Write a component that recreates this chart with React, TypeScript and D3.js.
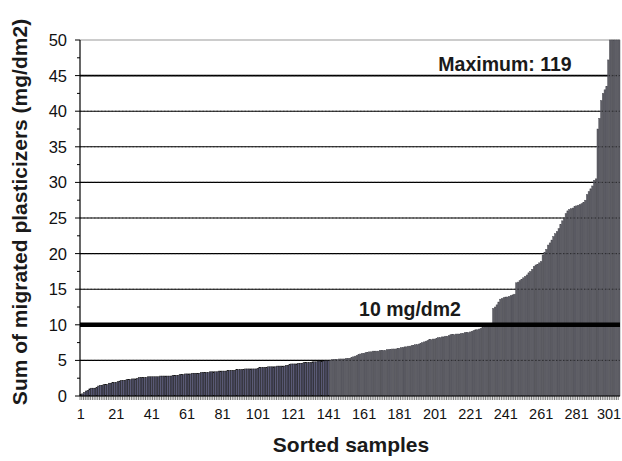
import * as d3 from "d3"

// sorted migration results, mg/dm2 (values above 50 are cut off by the axis)
const samples: number[] = [
  0.2, 0.3, 0.5, 0.7, 0.8, 1.0, 1.1, 1.1, 1.1, 1.2,
  1.4, 1.5, 1.5, 1.6, 1.6, 1.6, 1.8, 1.8, 1.9, 1.9,
  1.9, 2.0, 2.1, 2.2, 2.2, 2.2, 2.3, 2.3, 2.3, 2.4,
  2.4, 2.4, 2.5, 2.6, 2.6, 2.6, 2.6, 2.6, 2.7, 2.7,
  2.7, 2.7, 2.7, 2.7, 2.7, 2.8, 2.8, 2.8, 2.8, 2.8,
  2.8, 2.8, 2.9, 2.9, 2.9, 2.9, 3.0, 3.0, 3.0, 3.1,
  3.1, 3.1, 3.1, 3.2, 3.2, 3.2, 3.2, 3.2, 3.3, 3.3,
  3.3, 3.3, 3.3, 3.4, 3.4, 3.4, 3.4, 3.4, 3.5, 3.5,
  3.5, 3.5, 3.5, 3.6, 3.6, 3.6, 3.6, 3.6, 3.7, 3.7,
  3.7, 3.7, 3.7, 3.8, 3.8, 3.8, 3.8, 3.8, 3.8, 3.8,
  3.9, 4.0, 4.0, 4.0, 4.0, 4.0, 4.1, 4.1, 4.1, 4.1,
  4.1, 4.2, 4.2, 4.2, 4.2, 4.2, 4.3, 4.3, 4.4, 4.5,
  4.5, 4.5, 4.5, 4.6, 4.6, 4.6, 4.7, 4.7, 4.7, 4.7,
  4.7, 4.8, 4.8, 4.8, 4.9, 4.9, 4.9, 4.9, 5.0, 5.0,
  5.0, 5.0, 5.1, 5.1, 5.1, 5.1, 5.2, 5.2, 5.2, 5.2,
  5.3, 5.3, 5.3, 5.4, 5.5, 5.6, 5.7, 5.8, 5.9, 6.0,
  6.0, 6.1, 6.1, 6.2, 6.2, 6.3, 6.3, 6.3, 6.3, 6.4,
  6.4, 6.4, 6.4, 6.5, 6.5, 6.5, 6.6, 6.6, 6.6, 6.7,
  6.7, 6.8, 6.8, 6.9, 6.9, 7.0, 7.0, 7.1, 7.1, 7.2,
  7.2, 7.3, 7.4, 7.5, 7.6, 7.7, 7.8, 7.9, 7.9, 8.0,
  8.0, 8.1, 8.2, 8.2, 8.3, 8.3, 8.4, 8.4, 8.5, 8.6,
  8.6, 8.6, 8.7, 8.7, 8.7, 8.8, 8.8, 8.9, 8.9, 8.9,
  9.0, 9.1, 9.2, 9.3, 9.3, 9.4, 9.5, 9.6, 9.7, 9.8,
  9.9, 10.0, 10.1, 12.3, 12.5, 12.8, 13.2, 13.6, 13.7, 13.8,
  13.9, 13.9, 14.0, 14.1, 14.2, 14.3, 15.9, 16.0, 16.2, 16.4,
  16.6, 16.8, 17.0, 17.3, 17.5, 17.8, 18.2, 18.4, 18.5, 18.7,
  18.9, 19.8, 20.2, 20.6, 21.2, 21.5, 21.9, 22.4, 22.8, 23.1,
  23.5, 24.1, 24.6, 25.0, 25.6, 26.0, 26.2, 26.3, 26.4, 26.6,
  26.7, 26.8, 26.9, 27.0, 27.2, 27.5, 28.3, 28.7, 29.1, 29.5,
  30.3, 30.5, 37.5, 39.0, 41.5, 42.5, 43.0, 43.5, 47.2, 52,
  58, 66, 75, 90, 119,
]
const yTicks = [0, 5, 10, 15, 20, 25, 30, 35, 40, 45, 50]
const xTickLabels = [1, 21, 41, 61, 81, 101, 121, 141, 161, 181, 201, 221, 241, 261, 281, 301]
const limitValue = 10
const limitLabel = "10 mg/dm2"
const maxLabel = "Maximum: 119"
const firstBatch = 141 // first samples drawn in the bluish tone

const WIDTH = 622
const HEIGHT = 461
const MARGIN = { left: 80, top: 40, right: 2, bottom: 65 }
const FONT = "'Liberation Sans', Arial, Helvetica, sans-serif"

export default function App() {
  const boundsWidth = WIDTH - MARGIN.left - MARGIN.right
  const boundsHeight = HEIGHT - MARGIN.top - MARGIN.bottom
  const ids = samples.map((_, i) => i + 1)

  const x = d3.scaleBand<number>().domain(ids).range([0, boundsWidth]).padding(0)
  const y = d3.scaleLinear().domain([0, 50]).range([boundsHeight, 0])
  const minorTicks = d3.range(0, 50.1, 2.5)
  const bw = x.bandwidth()
  const grid = yTicks.filter(t => t > 0 && t < 50 && t !== limitValue)

  return (
    <svg
      width={WIDTH}
      height={HEIGHT}
      style={{ position: "absolute", left: 0, top: 0, background: "#fff" }}
      fontFamily={FONT}
    >
      <g transform={`translate(${MARGIN.left},${MARGIN.top})`}>
        {/* top frame */}
        <line x1={0} x2={boundsWidth} y1={0} y2={0} stroke="#999" strokeWidth={1} />
        {/* gridlines behind */}
        {grid.map(t => (
          <line key={t} x1={0} x2={boundsWidth} y1={y(t)} y2={y(t)}
            stroke="#000" strokeWidth={t === 45 ? 1.8 : 1.1} />
        ))}
        {/* bars */}
        {samples.map((v, i) => {
          const top = y(Math.min(v, 50))
          const blue = i < firstBatch
          return (
            <rect
              key={i}
              x={x(i + 1)!}
              y={top}
              width={bw}
              height={boundsHeight - top}
              fill={blue ? "#5a5a76" : "#5f5f66"}
              stroke={blue ? "#111" : "#4b4b52"}
              strokeWidth={0.45}
            />
          )
        })}
        {/* gridlines show faintly through the bars */}
        {grid.map(t => (
          <line key={"o" + t} x1={0} x2={boundsWidth} y1={y(t)} y2={y(t)}
            stroke="#111" strokeWidth={1} strokeDasharray="1.5 2" opacity={0.55} />
        ))}
        {/* limit line */}
        <line x1={0} x2={boundsWidth} y1={y(limitValue)} y2={y(limitValue)} stroke="#000" strokeWidth={4.5} />
        {/* x axis line and category ticks */}
        <line x1={0} x2={boundsWidth} y1={boundsHeight} y2={boundsHeight} stroke="#000" strokeWidth={1.2} />
        {ids.map(id => (
          <line key={"xt" + id} x1={x(id)!} x2={x(id)!} y1={boundsHeight} y2={boundsHeight + 4}
            stroke="#222" strokeWidth={0.6} />
        ))}
        {xTickLabels.map(id => (
          <text key={"xl" + id} x={Math.min(x(id)! + bw / 2, boundsWidth - 11)} y={boundsHeight + 23}
            textAnchor="middle" fontSize={14.5} fill="#111">
            {id}
          </text>
        ))}
        {/* y axis */}
        <line x1={0} x2={0} y1={0} y2={boundsHeight} stroke="#000" strokeWidth={1.2} />
        {minorTicks.map(t => (
          <line key={"mt" + t} x1={t % 5 === 0 ? -5 : -3} x2={0} y1={y(t)} y2={y(t)} stroke="#000" strokeWidth={1} />
        ))}
        {yTicks.map(t => (
          <text key={"yl" + t} x={-13} y={y(t)} dy="0.36em" textAnchor="end" fontSize={16.5} fill="#111">
            {t}
          </text>
        ))}
        {/* annotations */}
        <text x={425} y={31} textAnchor="middle" fontSize={19.5} fontWeight={700} fill="#1a1a1a">
          {maxLabel}
        </text>
        <text x={330} y={276} textAnchor="middle" fontSize={19.5} fontWeight={700} fill="#1a1a1a">
          {limitLabel}
        </text>
      </g>
      {/* axis titles */}
      <text x={351} y={452} textAnchor="middle" fontSize={21} fontWeight={700} fill="#1a1a1a">
        Sorted samples
      </text>
      <text
        transform={`translate(27,212) rotate(-90)`}
        textAnchor="middle"
        fontSize={21}
        fontWeight={700}
        fill="#1a1a1a"
      >
        Sum of migrated plasticizers (mg/dm2)
      </text>
    </svg>
  )
}
